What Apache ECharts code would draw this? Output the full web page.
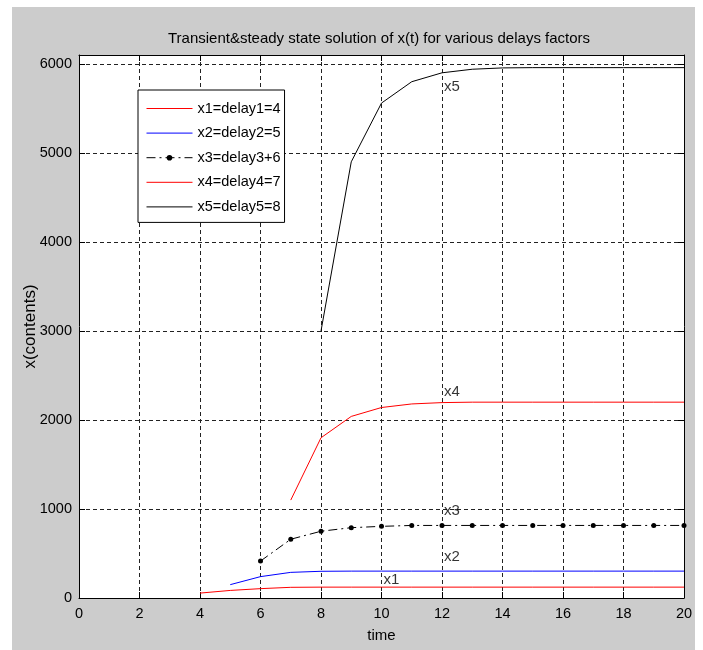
<!DOCTYPE html>
<html>
<head>
<meta charset="UTF-8">
<title>Transient&steady state solution</title>
<script src="https://cdn.jsdelivr.net/npm/echarts@6/dist/echarts.min.js"></script>
<style>
  html, body { margin: 0; padding: 0; background: #fff; }
</style>
</head>
<body>
<div id="main" style="width: 703px;height:650px;"></div>
<script type="text/javascript">
// time values (integer steps) and each curve, starting at its own delay
var times = [0, 1, 2, 3, 4, 5, 6, 7, 8, 9, 10, 11, 12, 13, 14, 15, 16, 17, 18, 19, 20];
var x1Start = 4;
var x1 = [55, 85, 105, 120, 122, 122, 122, 122, 122, 122, 122, 122, 122, 122, 122, 122, 122];
var x2Start = 5;
var x2 = [150, 240, 288, 300, 302, 302, 302, 302, 302, 302, 302, 302, 302, 302, 302, 302];
var x3Start = 6;
var x3 = [415, 660, 750, 790, 805, 815, 815, 815, 815, 815, 815, 815, 815, 815, 815];
var x4Start = 7;
var x4 = [1100, 1800, 2040, 2140, 2180, 2195, 2200, 2200, 2200, 2200, 2200, 2200, 2200, 2200];
var x5Start = 8;
var x5 = [3000, 4900, 5560, 5800, 5900, 5940, 5955, 5958, 5958, 5958, 5958, 5958, 5958];
var names = ['x1=delay1=4', 'x2=delay2=5', 'x3=delay3+6', 'x4=delay4=7', 'x5=delay5=8'];
var colors = ['#ff0000', '#0000ff', '#000000', '#ff0000', '#000000'];
// text annotations: [time, value, text]
var notes = [[10, 200, 'x1'], [12, 460, 'x2'], [12, 975, 'x3'], [12, 2320, 'x4'], [12, 5740, 'x5']];
var xTicks = [0, 2, 4, 6, 8, 10, 12, 14, 16, 18, 20];
var yTicks = [0, 1000, 2000, 3000, 4000, 5000, 6000];

function pairs(start, vals) {
  var out = [];
  for (var i = 0; i < vals.length; i++) {
    out.push([times[times.indexOf(start) + i], vals[i]]);
  }
  return out;
}

var FONT = "'Liberation Sans', Arial, sans-serif";
var gridDash = { color: '#222', width: 1, type: [4, 3] };
var x3Dash = [9, 4, 2, 4];

// only x3 carries a marker; hide the legend dot of the plain lines
var legendData = names.map(function (n, i) {
  var item = { name: n, lineStyle: { color: colors[i], width: 1 } };
  if (i === 2) {
    item.lineStyle.type = x3Dash;
  } else {
    item.itemStyle = { opacity: 0 };
  }
  return item;
});

var myChart = echarts.init(document.getElementById('main'));
myChart.setOption({
  animation: false,
  backgroundColor: '#fff',
  graphic: [{
    type: 'rect', z: -10,
    shape: { x: 12, y: 7, width: 683, height: 643 },
    style: { fill: '#cccccc' }
  }],
  title: {
    text: 'Transient&steady state solution of x(t) for various delays factors',
    left: 374, top: 26, textAlign: 'center',
    textStyle: { color: '#000', fontSize: 15, fontWeight: 'normal', fontFamily: FONT }
  },
  grid: { left: 79, top: 55, right: 19, bottom: 52, show: true, backgroundColor: '#fff', borderWidth: 0 },
  legend: {
    orient: 'vertical', left: 138, top: 90,
    padding: [11, 4, 8, 8],
    itemWidth: 46, itemHeight: 7, itemGap: 9.6,
    backgroundColor: '#fff', borderColor: '#000', borderWidth: 1,
    textStyle: { color: '#000', fontSize: 14.5, fontFamily: FONT, lineHeight: 14 },
    data: legendData
  },
  xAxis: [{
    type: 'value', min: xTicks[0], max: xTicks[xTicks.length - 1], interval: 2,
    name: 'time', nameLocation: 'middle', nameGap: 30,
    nameTextStyle: { color: '#000', fontSize: 15, fontFamily: FONT },
    axisLine: { lineStyle: { color: '#000', width: 1 } },
    axisTick: { inside: true, length: 6, lineStyle: { color: '#000' } },
    axisLabel: { color: '#000', fontSize: 14.5, fontFamily: FONT, margin: 8 },
    splitLine: { show: true, lineStyle: gridDash }
  }, {
    type: 'value', position: 'top', min: xTicks[0], max: xTicks[xTicks.length - 1], interval: 2,
    axisLine: { onZero: false, lineStyle: { color: '#000', width: 1 } },
    axisTick: { inside: true, length: 6, lineStyle: { color: '#000' } },
    axisLabel: { show: false }, splitLine: { show: false }
  }],
  yAxis: [{
    type: 'value', min: yTicks[0], max: 6100, interval: 1000,
    name: 'x(contents)', nameLocation: 'middle', nameGap: 40, nameMoveOverlap: false,
    nameTextStyle: { color: '#000', fontSize: 17, fontFamily: FONT },
    axisLine: { show: true, lineStyle: { color: '#000', width: 1 } },
    axisTick: { show: true, inside: true, length: 6, lineStyle: { color: '#000' } },
    axisLabel: {
      color: '#000', fontSize: 14.5, fontFamily: FONT, margin: 7, showMaxLabel: false,
      formatter: function (v) { return yTicks.indexOf(v) >= 0 ? String(v) : ''; }
    },
    splitLine: { show: true, lineStyle: gridDash }
  }, {
    type: 'value', position: 'right', min: yTicks[0], max: 6100, interval: 1000,
    axisLine: { show: true, onZero: false, lineStyle: { color: '#000', width: 1 } },
    axisTick: { show: true, inside: true, length: 6, lineStyle: { color: '#000' } },
    axisLabel: { show: false }, splitLine: { show: false }
  }],
  series: [{
    name: names[0], type: 'line', symbol: 'none', data: pairs(x1Start, x1),
    lineStyle: { color: colors[0], width: 1 }, itemStyle: { color: colors[0] }
  }, {
    name: names[1], type: 'line', symbol: 'none', data: pairs(x2Start, x2),
    lineStyle: { color: colors[1], width: 1 }, itemStyle: { color: colors[1] }
  }, {
    name: names[2], type: 'line', symbol: 'circle', symbolSize: 5, data: pairs(x3Start, x3),
    lineStyle: { color: colors[2], width: 1, type: x3Dash }, itemStyle: { color: colors[2] }
  }, {
    name: names[3], type: 'line', symbol: 'none', data: pairs(x4Start, x4),
    lineStyle: { color: colors[3], width: 1 }, itemStyle: { color: colors[3] }
  }, {
    name: names[4], type: 'line', symbol: 'none', data: pairs(x5Start, x5),
    lineStyle: { color: colors[4], width: 1 }, itemStyle: { color: colors[4] }
  }, {
    name: 'notes', type: 'scatter', symbolSize: 0, data: notes,
    label: {
      show: true, position: 'right', distance: 2, color: '#000',
      fontSize: 15, fontFamily: FONT,
      formatter: function (p) { return p.value[2]; }
    },
    silent: true
  }]
});
</script>
</body>
</html>
